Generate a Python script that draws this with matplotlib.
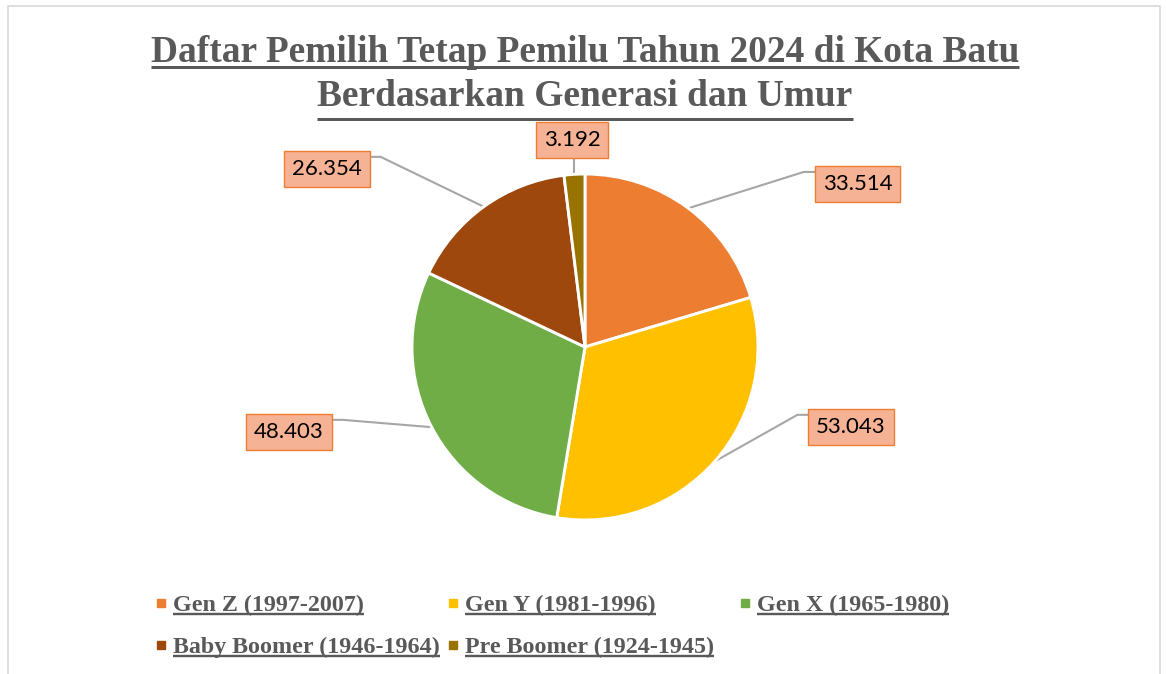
import numpy as np
import matplotlib.pyplot as plt
from matplotlib.lines import Line2D
from matplotlib.patches import Rectangle
from matplotlib.transforms import IdentityTransform

# data
generasi = ["Gen Z (1997-2007)", "Gen Y (1981-1996)", "Gen X (1965-1980)",
            "Baby Boomer (1946-1964)", "Pre Boomer (1924-1945)"]
jumlah = [33514, 53043, 48403, 26354, 3192]
warna = ["#ED7D31", "#FFC000", "#70AD47", "#9E480E", "#997300"]
judul = ["Daftar Pemilih Tetap Pemilu Tahun 2024 di Kota Batu",
         "Berdasarkan Generasi dan Umur"]

# label box centres, in pie-radius units
label_pos = [(1.575, 0.942), (1.538, -0.462), (-1.711, -0.491),
             (-1.491, 1.029), (-0.075, 1.197)]

W, H = 1166, 674
abu = "#595959"
fig = plt.figure(figsize=(W / 100, H / 100), dpi=100)

# frame of the chart area
fig.add_artist(Rectangle((8 / W, -0.05), 1152 / W, (H - 6) / H + 0.05,
                         transform=fig.transFigure, fill=False,
                         ec="#D9D9D9", lw=1.2, clip_on=False))

# pie, radius 173 px centred at (585, 347)
cx, cy, R = 585, 347, 173
ax = fig.add_axes([(cx - R) / W, (H - cy - R) / H, 2 * R / W, 2 * R / H])
wedges, _ = ax.pie(jumlah, colors=warna, startangle=90, counterclock=False,
                   radius=1, wedgeprops=dict(edgecolor="white", linewidth=2.1))
ax.set_xlim(-1, 1)
ax.set_ylim(-1, 1)
ax.set_aspect("equal")
ax.axis("off")

# data labels with leader lines
hw = 0.24   # half width of label box
for w, v, (lx, ly) in zip(wedges, jumlah, label_pos):
    m = np.deg2rad((w.theta1 + w.theta2) / 2)
    px, py = np.cos(m), np.sin(m)
    teks = f"{v:,}".replace(",", ".")
    ax.text(lx, ly, teks, ha="center", va="center", fontsize=16,
            family="Lato", color="black", clip_on=False,
            bbox=dict(boxstyle="square,pad=0.36", fc="#F6B295", ec="#ED7D31", lw=1))
    if abs(lx) < 0.3:
        xs, ys = [px, px], [py, ly - 0.11]
    else:
        s = 1 if lx < 0 else -1
        ya = ly + 0.07
        xs = [px, lx + s * (hw + 0.07), lx + s * hw]
        ys = [py, ya, ya]
    ax.plot(xs, ys, color="#A6A6A6", lw=1.5, clip_on=False, zorder=0)

# title
t1 = fig.text(585 / W, 1 - 62 / H, judul[0], ha="center", va="baseline",
              family="Liberation Serif", weight="bold", size=26.9, color=abu)
t2 = fig.text(585 / W, 1 - 106 / H, judul[1], ha="center", va="baseline",
              family="Liberation Serif", weight="bold", size=26.9, color=abu)

# legend, drawn by hand (row-major, equal column widths)
leg_texts = []
for i, (lab, c) in enumerate(zip(generasi, warna)):
    r, k = divmod(i, 3)
    x0 = 161 + k * 292
    yb = 611 + r * 42
    fig.add_artist(Line2D([x0 / W], [1 - (yb - 8) / H], marker="s", ms=5.4,
                          color=c, ls="none", transform=fig.transFigure))
    leg_texts.append(fig.text((x0 + 12) / W, 1 - yb / H, lab, ha="left",
                              va="baseline", family="Liberation Serif",
                              weight="bold", size=17.3, color=abu))

# underlines
fig.canvas.draw()
rdr = fig.canvas.get_renderer()


def garis_bawah(t, turun, tebal):
    bb = t.get_window_extent(rdr)
    _, _, d = rdr.get_text_width_height_descent(t.get_text(), t.get_fontproperties(), ismath=False)
    y = bb.y0 + d - turun
    fig.add_artist(Line2D([bb.x0, bb.x1], [y, y], transform=IdentityTransform(),
                          color=abu, lw=tebal * 72 / fig.dpi, solid_capstyle="butt"))


garis_bawah(t1, 5, 3)
garis_bawah(t2, 5, 3)
for t in leg_texts:
    garis_bawah(t, 3, 2.4)

fig.savefig("out.png", dpi=100)
